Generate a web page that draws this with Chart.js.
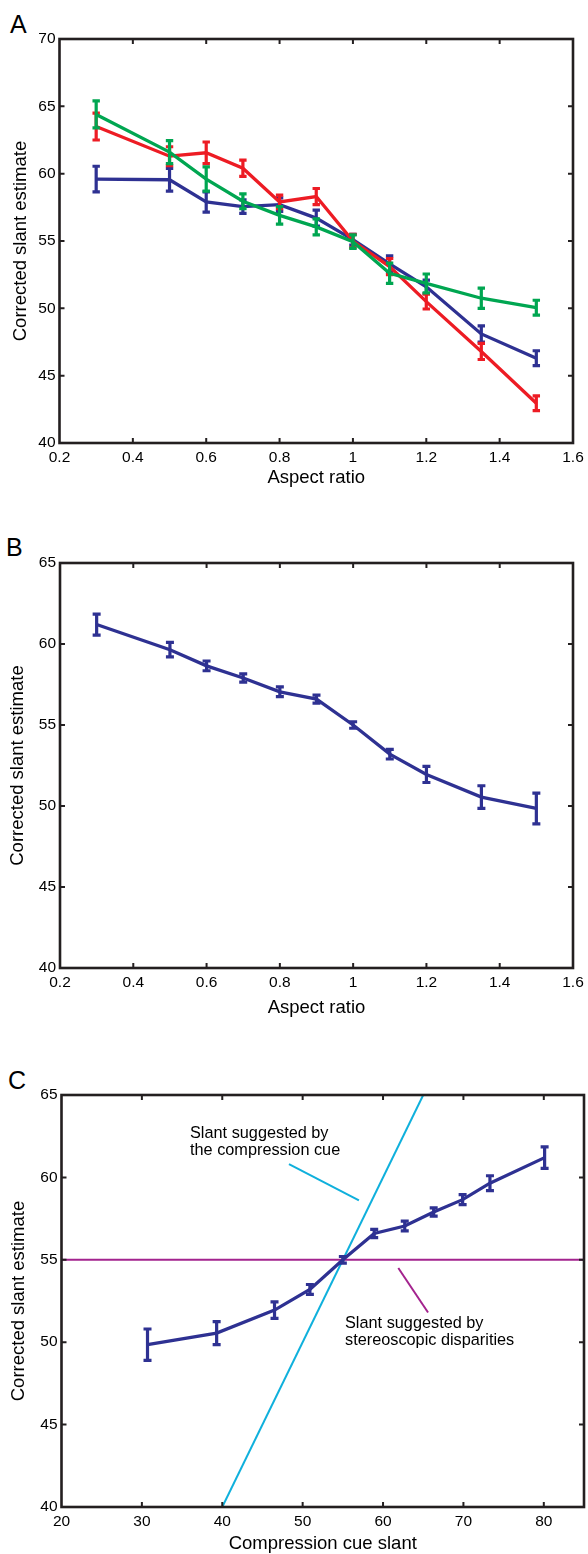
<!DOCTYPE html>
<html><head><meta charset="utf-8">
<script src="https://cdn.jsdelivr.net/npm/chart.js@4.4.1/dist/chart.umd.min.js"></script>
<style>
html,body{margin:0;padding:0;background:#fff;width:588px;height:1554px;overflow:hidden;position:relative;}
canvas{position:absolute;left:0;}
.lbl{position:absolute;font-family:"Liberation Sans",Arial,Helvetica,sans-serif;font-size:25px;color:#000;line-height:1;}
</style></head><body>
<div class="lbl" style="left:10px;top:12px">A</div>
<div class="lbl" style="left:6px;top:535px">B</div>
<div class="lbl" style="left:8px;top:1068px">C</div>
<canvas id="cA" width="588" height="500" style="top:0px"></canvas>
<canvas id="cB" width="588" height="530" style="top:500px"></canvas>
<canvas id="cC" width="588" height="524" style="top:1030px"></canvas>
<script>
// ---------- DATA ----------
const aspectRatios = [0.3, 0.5, 0.6, 0.7, 0.8, 0.9, 1.0, 1.1, 1.2, 1.35, 1.5];
const aspectTicks = [0.2, 0.4, 0.6, 0.8, 1, 1.2, 1.4, 1.6];

const blueA = [59.6, 59.55, 57.9, 57.55, 57.7, 56.7, 55.1, 53.3, 51.6, 48.1, 46.3];
const blueAErr = [0.95, 0.85, 0.75, 0.5, 0.5, 0.6, 0.4, 0.6, 0.5, 0.6, 0.55];
const redA = [63.5, 61.3, 61.55, 60.4, 57.9, 58.3, 55.0, 53.1, 50.5, 46.8, 42.95];
const redAErr = [1.0, 0.7, 0.8, 0.6, 0.5, 0.6, 0.5, 0.6, 0.55, 0.6, 0.55];
const greenA = [64.4, 61.6, 59.6, 57.95, 56.9, 56.05, 54.95, 52.6, 51.85, 50.75, 50.05];
const greenAErr = [1.0, 0.85, 0.9, 0.55, 0.65, 0.6, 0.5, 0.75, 0.7, 0.75, 0.55];
const yTicksA = [40, 45, 50, 55, 60, 65, 70];

const meanB = [61.2, 59.65, 58.65, 57.9, 57.05, 56.6, 55.0, 53.2, 51.95, 50.55, 49.85];
const meanBErr = [0.65, 0.45, 0.3, 0.25, 0.3, 0.25, 0.2, 0.3, 0.5, 0.7, 0.95];
const yTicksBC = [40, 45, 50, 55, 60, 65];

const compressionSlants = [80.1, 73.3, 69.9, 66.3, 62.7, 58.9, 55.0, 50.9, 46.5, 39.3, 30.7];
const slantTicks = [20, 30, 40, 50, 60, 70, 80];
const compressionCueLine = [{x: 40, y: 40}, {x: 65, y: 65}];
const stereoLine = [{x: 20, y: 55}, {x: 85, y: 55}];
const compressionPointer = [{x: 48.3, y: 60.8}, {x: 57.0, y: 58.6}];
const stereoPointer = [{x: 61.9, y: 54.5}, {x: 65.6, y: 51.8}];
const compressionNote = ["Slant suggested by", "the compression cue"];
const stereoNote = ["Slant suggested by", "stereoscopic disparities"];

// ---------- STYLE ----------
const FONT = '"Liberation Sans", Arial, Helvetica, sans-serif';
const BLUE = '#2e3192', RED = '#ed1c24', GREEN = '#00a651', CYAN = '#0fb0dc', MAGENTA = '#a3238e';
Chart.defaults.font.family = FONT;
Chart.defaults.color = '#000';

const pts = (xs, ys) => xs.map((x, i) => ({x: x, y: ys[i]}));

const framePlugin = {
  id: 'frame',
  afterDraw(chart) {
    const {ctx, chartArea: a} = chart;
    const xs = chart.scales.x, ys = chart.scales.y;
    ctx.save();
    ctx.strokeStyle = '#231f20';
    ctx.lineWidth = 2;
    ctx.beginPath();
    xs.ticks.forEach(t => {
      const px = xs.getPixelForValue(t.value);
      if (px > a.left + 2 && px < a.right - 2) {
        ctx.moveTo(px, a.bottom); ctx.lineTo(px, a.bottom - 5);
        ctx.moveTo(px, a.top); ctx.lineTo(px, a.top + 5);
      }
    });
    ys.ticks.forEach(t => {
      const py = ys.getPixelForValue(t.value);
      if (py > a.top + 2 && py < a.bottom - 2) {
        ctx.moveTo(a.left, py); ctx.lineTo(a.left + 5, py);
        ctx.moveTo(a.right, py); ctx.lineTo(a.right - 5, py);
      }
    });
    ctx.stroke();
    ctx.lineWidth = 2.6;
    ctx.strokeRect(a.left, a.top, a.right - a.left, a.bottom - a.top);
    ctx.restore();
  }
};

const errPlugin = {
  id: 'errbars',
  afterDatasetDraw(chart, args) {
    const ds = chart.data.datasets[args.index];
    if (!ds.errors) return;
    const {ctx} = chart;
    const xs = chart.scales.x, ys = chart.scales.y;
    const hw = ds.capHalf || 3.5;
    ctx.save();
    ctx.strokeStyle = ds.borderColor;
    ctx.lineWidth = 3.2;
    ctx.lineCap = 'butt';
    ctx.beginPath();
    ds.data.forEach((p, i) => {
      const e = ds.errors[i];
      const px = xs.getPixelForValue(p.x);
      const y1 = ys.getPixelForValue(p.y - e), y2 = ys.getPixelForValue(p.y + e);
      ctx.moveTo(px, y1 + 1.5); ctx.lineTo(px, y2 - 1.5);
      ctx.moveTo(px - hw, y1); ctx.lineTo(px + hw, y1);
      ctx.moveTo(px - hw, y2); ctx.lineTo(px + hw, y2);
    });
    ctx.stroke();
    ctx.restore();
  }
};

const notePlugin = {
  id: 'notes',
  afterDraw(chart, args, opts) {
    if (!opts || !opts.items) return;
    const ctx = chart.ctx;
    ctx.save();
    ctx.font = '16.3px ' + FONT;
    ctx.fillStyle = '#000';
    ctx.textBaseline = 'alphabetic';
    ctx.textAlign = 'left';
    opts.items.forEach(n => n.lines.forEach((l, i) => ctx.fillText(l, n.x, n.y + i * 17)));
    ctx.restore();
  }
};

function makeChart(id, cfg) {
  const yW = cfg.yW, xH = cfg.xH;
  return new Chart(document.getElementById(id), {
    type: 'line',
    data: {datasets: cfg.datasets},
    plugins: [errPlugin, framePlugin, notePlugin],
    options: {
      responsive: false,
      animation: false,
      devicePixelRatio: 1,
      layout: {padding: {left: 0, top: cfg.top, right: cfg.right, bottom: 0}},
      plugins: {legend: {display: false}, tooltip: {enabled: false}, notes: {items: cfg.notes || []}},
      elements: {point: {radius: 0, hoverRadius: 0}, line: {tension: 0, borderWidth: 3.3, borderCapStyle: 'butt'}},
      scales: {
        x: {
          type: 'linear', min: cfg.xMin, max: cfg.xMax,
          grid: {display: false, drawTicks: false}, border: {display: false},
          afterBuildTicks: s => { s.ticks = cfg.xTicks.map(v => ({value: v})); },
          afterFit: s => { s.height = xH; s.paddingLeft = 0; s.paddingRight = 0; },
          ticks: {font: {size: 15.5}, padding: 5, maxRotation: 0, autoSkip: false, callback: v => String(v)},
          title: {display: true, text: cfg.xTitle, font: {size: 18.5, lineHeight: 1}, padding: {top: 0, bottom: cfg.xTitlePad}}
        },
        y: {
          type: 'linear', min: cfg.yMin, max: cfg.yMax,
          grid: {display: false, drawTicks: false}, border: {display: false},
          afterBuildTicks: s => { s.ticks = cfg.yTicks.map(v => ({value: v})); },
          afterFit: s => { s.width = yW; s.paddingTop = 0; s.paddingBottom = 0; },
          ticks: {font: {size: 15.5}, padding: 4, autoSkip: false, callback: v => String(v)},
          title: {display: true, text: 'Corrected slant estimate', font: {size: 18.5, lineHeight: 1}, padding: {top: cfg.yTitlePad, bottom: 0}}
        }
      }
    }
  });
}

// Panel A
makeChart('cA', {
  yW: 59.5, xH: 57, top: 39, right: 15, xMin: 0.2, xMax: 1.6, yMin: 40, yMax: 70,
  xTicks: aspectTicks, yTicks: yTicksA, xTitle: 'Aspect ratio', xTitlePad: 12.75, yTitlePad: 11.25,
  datasets: [
    {data: pts(aspectRatios, blueA), errors: blueAErr, borderColor: BLUE, order: 3, capHalf: 3.7},
    {data: pts(aspectRatios, redA), errors: redAErr, borderColor: RED, order: 2, capHalf: 3.7},
    {data: pts(aspectRatios, greenA), errors: greenAErr, borderColor: GREEN, order: 1, capHalf: 3.7}
  ]
});

// Panel B
makeChart('cB', {
  yW: 60, xH: 62, top: 63, right: 15, xMin: 0.2, xMax: 1.6, yMin: 40, yMax: 65,
  xTicks: aspectTicks, yTicks: yTicksBC, xTitle: 'Aspect ratio', xTitlePad: 12.75, yTitlePad: 8.75,
  datasets: [
    {data: pts(aspectRatios, meanB), errors: meanBErr, borderColor: BLUE, capHalf: 4}
  ]
});

// Panel C
makeChart('cC', {
  yW: 61.5, xH: 47, top: 65, right: 4, xMin: 20, xMax: 85, yMin: 40, yMax: 65,
  xTicks: slantTicks, yTicks: yTicksBC, xTitle: 'Compression cue slant', xTitlePad: 0.75, yTitlePad: 9.75,
  notes: [
    {x: 190, y: 108, lines: compressionNote},
    {x: 345, y: 298, lines: stereoNote}
  ],
  datasets: [
    {data: pts(compressionSlants, meanB), errors: meanBErr, borderColor: BLUE, order: 1, capHalf: 4},
    {data: stereoLine, borderColor: MAGENTA, borderWidth: 2, order: 3},
    {data: compressionCueLine, borderColor: CYAN, borderWidth: 2, order: 2},
    {data: compressionPointer, borderColor: CYAN, borderWidth: 2, order: 4},
    {data: stereoPointer, borderColor: MAGENTA, borderWidth: 2, order: 4}
  ]
});
</script>
</body></html>
